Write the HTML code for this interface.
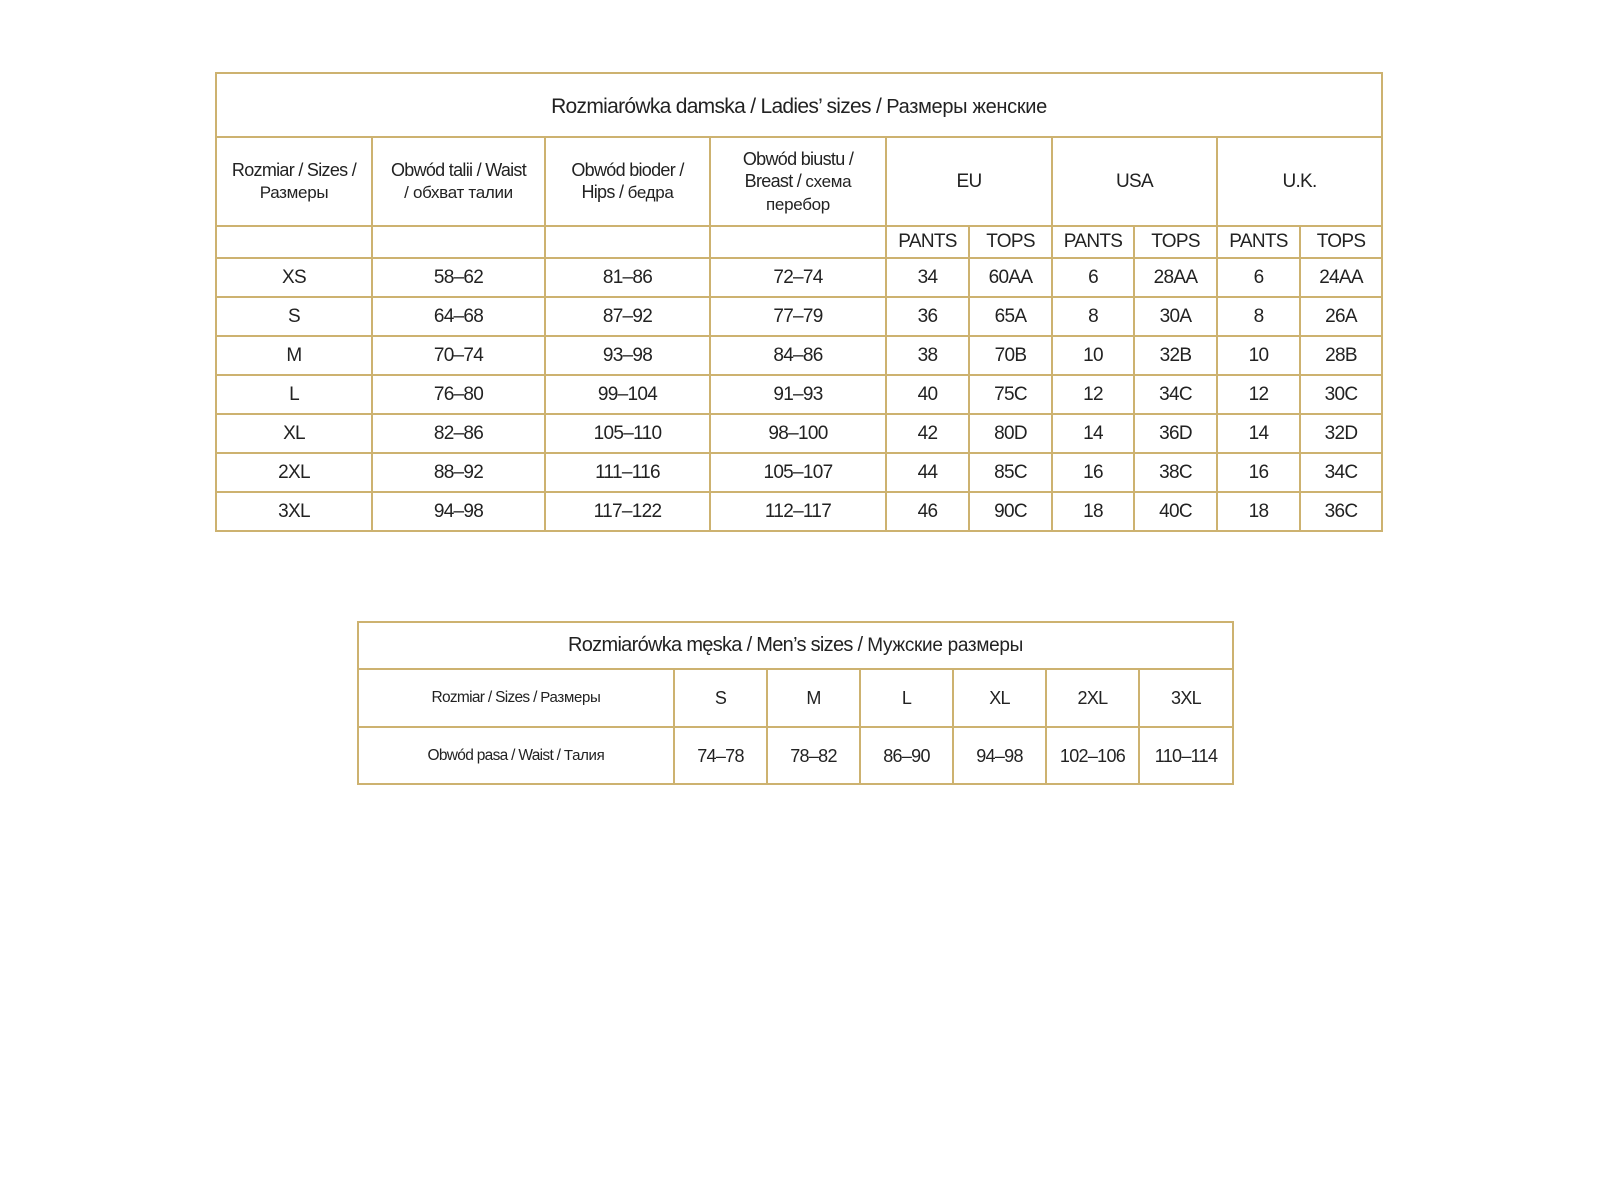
<!DOCTYPE html>
<html><head><meta charset="utf-8"><style>
body{margin:0;background:#fff;width:1601px;height:1200px;position:relative;font-family:"Liberation Sans","DejaVu Sans",sans-serif;color:#222}
table{position:absolute;border-collapse:collapse;table-layout:fixed}
td{border:2px solid #cdb270;text-align:center;padding:0;font-size:19px;line-height:22px;letter-spacing:-0.7px}
#t1{left:215px;top:72px;width:1166px}
#t2{left:357px;top:621px;width:875px}
.title{font-size:21px;height:58px;padding-top:4px}
.ru{font-size:17px;letter-spacing:-0.3px}
.hd{font-size:18px}
#t2 td{font-size:18px}
#t2 .lbl{font-size:15.5px}
#t1 tr.d td{height:37px}
</style></head><body>
<table id="t1">
<colgroup><col style="width:156px"><col style="width:173px"><col style="width:165px"><col style="width:176px"><col style="width:83px"><col style="width:83px"><col style="width:82px"><col style="width:83px"><col style="width:83px"><col style="width:82px"></colgroup>
<tr><td colspan="10" class="title">Rozmiarówka damska / Ladies’ sizes / <span class="ru" style="font-size:20px">Размеры женские</span></td></tr>
<tr style="height:89px"><td class="hd">Rozmiar / Sizes /<br><span class="ru">Размеры</span></td><td class="hd">Obwód talii / Waist<br><span class="ru">/ обхват талии</span></td><td class="hd">Obwód bioder /<br>Hips / <span class="ru">бедра</span></td><td class="hd">Obwód biustu /<br>Breast / <span class="ru">схема<br>перебор</span></td><td colspan="2">EU</td><td colspan="2">USA</td><td colspan="2">U.K.</td></tr>
<tr style="height:32px"><td></td><td></td><td></td><td></td><td>PANTS</td><td>TOPS</td><td>PANTS</td><td>TOPS</td><td>PANTS</td><td>TOPS</td></tr>
<tr class="d"><td>XS</td><td>58–62</td><td>81–86</td><td>72–74</td><td>34</td><td>60AA</td><td>6</td><td>28AA</td><td>6</td><td>24AA</td></tr>
<tr class="d"><td>S</td><td>64–68</td><td>87–92</td><td>77–79</td><td>36</td><td>65A</td><td>8</td><td>30A</td><td>8</td><td>26A</td></tr>
<tr class="d"><td>M</td><td>70–74</td><td>93–98</td><td>84–86</td><td>38</td><td>70B</td><td>10</td><td>32B</td><td>10</td><td>28B</td></tr>
<tr class="d"><td>L</td><td>76–80</td><td>99–104</td><td>91–93</td><td>40</td><td>75C</td><td>12</td><td>34C</td><td>12</td><td>30C</td></tr>
<tr class="d"><td>XL</td><td>82–86</td><td>105–110</td><td>98–100</td><td>42</td><td>80D</td><td>14</td><td>36D</td><td>14</td><td>32D</td></tr>
<tr class="d"><td>2XL</td><td>88–92</td><td>111–116</td><td>105–107</td><td>44</td><td>85C</td><td>16</td><td>38C</td><td>16</td><td>34C</td></tr>
<tr class="d"><td>3XL</td><td>94–98</td><td>117–122</td><td>112–117</td><td>46</td><td>90C</td><td>18</td><td>40C</td><td>18</td><td>36C</td></tr>
</table>
<table id="t2">
<colgroup><col style="width:316px"><col style="width:93px"><col style="width:93px"><col style="width:93px"><col style="width:93px"><col style="width:93px"><col style="width:94px"></colgroup>
<tr style="height:47px"><td colspan="7" style="font-size:20px">Rozmiarówka męska / Men’s sizes / <span class="ru" style="font-size:19px">Мужские размеры</span></td></tr>
<tr style="height:58px"><td class="lbl">Rozmiar / Sizes / <span class="ru" style="font-size:15px">Размеры</span></td><td>S</td><td>M</td><td>L</td><td>XL</td><td>2XL</td><td>3XL</td></tr>
<tr style="height:57px"><td class="lbl">Obwód pasa / Waist / <span class="ru" style="font-size:15px">Талия</span></td><td>74–78</td><td>78–82</td><td>86–90</td><td>94–98</td><td>102–106</td><td>110–114</td></tr>
</table>
</body></html>
